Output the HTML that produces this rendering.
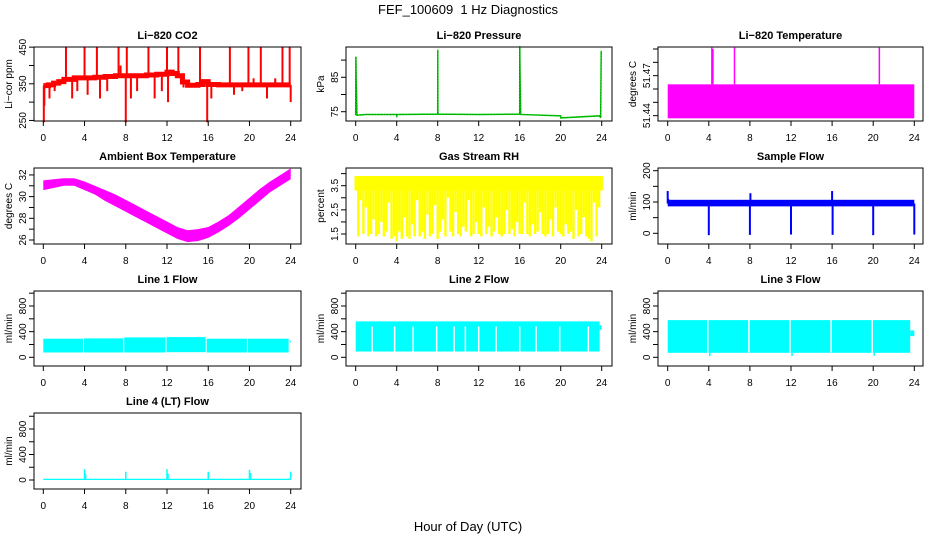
<!DOCTYPE html>
<html><head><meta charset="utf-8"><style>
html,body{margin:0;padding:0;background:#fff;}
svg{display:block;font-family:"Liberation Sans",Arial,sans-serif;}
</style></head><body>
<svg id="chart" width="936" height="540" viewBox="0 0 936 540" xmlns="http://www.w3.org/2000/svg">
<rect width="936" height="540" fill="#fff"/>
<text x="468" y="14" text-anchor="middle" font-size="13">FEF_100609&#160; 1 Hz Diagnostics</text>
<text x="468" y="531" text-anchor="middle" font-size="13">Hour of Day (UTC)</text>
</svg>
<script>
// ---------- DATA ----------
const xTicks = [0,4,8,12,16,20,24];
// CO2 baseline (hour, ppm)
const co2BaseT = [0,0.5,1,1.5,2,3,4,5,6,7,8,9,10,11,12,12.5,13,13.5,14,15,15.5,16,17,18,20,22,24];
const co2BaseV = [345,347,352,356,362,366,366,368,370,372,372,372,374,376,382,378,372,355,346,348,356,348,347,347,347,347,347];
const co2SpikeT = [0.05,0.1,0.6,1.1,2.2,2.8,3.3,4,4.3,5.2,5.5,6.2,7.3,7.5,8,8.1,8.5,9.1,10.2,10.8,11.5,12,12.1,13.1,13.6,15.2,15.9,16.3,18.1,18.5,19.3,19.9,20.4,21.1,21.7,22.5,23.2,23.9,24];
const co2SpikeV = [245,290,310,330,450,310,330,450,320,450,310,330,450,400,245,450,310,330,450,310,330,450,300,450,340,450,245,310,450,320,330,450,365,450,310,365,450,450,300];
// Pressure (hour, kPa)
const presT = [0,0.02,0.05,0.1,0.12,0.2,1,4,4.01,4.02,8,8.01,8.02,8.1,12,16,16.01,16.02,16.05,16.1,20,20.01,23.8,23.9,23.95,24];
const presV = [74,91,83,78,74,74,74.2,74.2,73.4,74.2,74.3,93,74.6,74.3,74.2,74.3,94,90,82,74.2,73.8,73.2,73.8,73.2,92.5,92.5];
// Li-820 temperature
const tempLo = 51.438, tempHi = 51.4635;
const tempSpikeT = [4.3,4.4,6.5,20.6];
const tempSpikeV = [51.491,51.490,51.491,51.491];
// Ambient box temperature band (hourly)
const ambT  = [0,1,2,3,4,5,6,7,8,9,10,11,12,13,14,15,16,17,18,19,20,21,22,23,24];
const ambHi = [31.5,31.6,31.7,31.7,31.4,31.0,30.6,30.2,29.7,29.2,28.7,28.2,27.7,27.2,26.9,27.0,27.2,27.7,28.3,29.1,29.9,30.7,31.4,32.0,32.6];
const ambLo = [30.6,30.8,31.0,31.0,30.6,30.2,29.6,29.1,28.6,28.1,27.6,27.1,26.6,26.1,25.8,25.9,26.2,26.7,27.3,28.0,28.8,29.6,30.4,31.0,31.6];
// Gas stream RH lows (every 0.25 h)
const rhTop = 3.9;
const rhLows = [3.3,1.4,2.9,1.5,2.6,1.4,1.5,2.1,1.4,1.5,2.0,1.4,1.6,2.8,1.3,1.4,1.2,1.6,1.3,2.2,1.4,1.3,1.9,1.4,2.9,1.4,1.6,1.3,2.3,1.4,1.5,2.7,1.3,1.6,2.1,1.4,3.0,1.6,1.4,2.4,1.5,1.4,1.8,1.6,2.9,1.4,1.5,2.0,1.5,1.4,2.6,1.5,1.8,1.4,1.6,2.2,1.5,1.4,1.5,2.5,1.5,1.7,1.4,2.0,1.5,1.5,2.8,1.5,1.4,1.9,1.5,1.6,2.4,1.5,1.4,1.5,2.1,1.4,2.6,1.6,1.5,1.4,1.9,1.5,1.6,1.3,2.5,1.4,1.5,2.2,1.4,1.3,1.2,2.8,1.4,2.6,3.3];
// Sample flow
const sfHi = 107, sfLo = 86;
const sfSpikeT = [0,0.05,4,8,8.05,12,16,16.05,20,24];
const sfSpikeV = [135,110,-6,-5,128,-4,135,-5,-6,-4];
// Line flows: segments [start, end] and levels
const l1SegS = [0,3.95,7.85,11.95,15.85,19.85];
const l1SegE = [3.85,7.75,11.85,15.75,19.75,23.8];
const l1Hi   = [290,295,310,315,290,290];
const l1Lo   = [75,75,75,80,75,75];
const l2GapT = [1.6,3.8,5.6,7.9,9.6,10.7,12,13.7,16,17.6,19.9,22.7];
const l2Hi = 560, l2Lo = 90;
const l3GapT = [3.9,7.9,11.9,15.9,19.9];
const l3Hi = 580, l3Lo = 70;
const l3DipT = [4,12,20];
const l3DipV = [20,20,25];
const l4SpikeT = [4,4.1,8,12,12.1,16,20,20.1,24];
const l4SpikeV = [170,100,130,170,100,130,160,110,130];

// ---------- LAYOUT ----------
const cols = [{L:34,R:301,x0:43.3,x24:290.7},{L:346,R:612,x0:355.7,x24:601.7},{L:658,R:923,x0:667.7,x24:914.3}];
const rows = [{T:47,B:121},{T:168,B:244},{T:291,B:366},{T:413,B:489}];
const svg = document.getElementById('chart');
const NS = 'http://www.w3.org/2000/svg';
function mk(tag, attrs, parent){const e=document.createElementNS(NS,tag);for(const k in attrs)e.setAttribute(k,attrs[k]);(parent||svg).appendChild(e);return e;}

function panel(name, c, r, ylim, yticks, ylabels, ylab, title){
  const C=cols[c], R=rows[r];
  const g = mk('g',{});
  
  
  const xs = h => C.x0 + (C.x24-C.x0)*h/24;
  const ys = v => R.B - (v-ylim[0])/(ylim[1]-ylim[0])*(R.B-R.T);
  const marks = mk('g',{},g);
  
  
  const p = {g,marks,xs,ys,C,R};
  p.finish = function(){
    const box = mk('rect',{x:C.L,y:R.T,width:C.R-C.L,height:R.B-R.T,fill:'none',stroke:'#000','stroke-width':1},g);
    
    
    const t = mk('text',{x:(C.L+C.R)/2,y:R.T-8,'text-anchor':'middle','font-size':11,'font-weight':'bold'},g);
    t.textContent = title;
    
    
    const xa = mk('g',{},g);
    
    
    xTicks.forEach(h=>{
      mk('line',{x1:xs(h),x2:xs(h),y1:R.B,y2:R.B+5,stroke:'#000'},xa);
      const l = mk('text',{x:xs(h),y:R.B+20,'text-anchor':'middle','font-size':10},xa);
      l.textContent = h;
    });
    const ya = mk('g',{},g);
    
    
    yticks.forEach(v=>{
      mk('line',{x1:C.L-5,x2:C.L,y1:ys(v),y2:ys(v),stroke:'#000'},ya);
    });
    ylabels.forEach(v=>{
      const l = mk('text',{x:C.L-8,y:ys(v),'text-anchor':'middle','font-size':10,transform:`rotate(-90 ${C.L-8} ${ys(v)})`},ya);
      l.textContent = v;
    });
    const yt = mk('text',{x:C.L-22,y:(R.T+R.B)/2,'text-anchor':'middle','font-size':10,transform:`rotate(-90 ${C.L-22} ${(R.T+R.B)/2})`},g);
    yt.textContent = ylab;
    
    
  };
  return p;
}
function vline(p,h,v1,v2,col,w){return mk('line',{x1:p.xs(h),x2:p.xs(h),y1:p.ys(v1),y2:p.ys(v2),stroke:col,'stroke-width':w},p.marks);}
function rect(p,h1,h2,v1,v2,col){return mk('rect',{x:p.xs(h1),y:p.ys(v2),width:p.xs(h2)-p.xs(h1),height:p.ys(v1)-p.ys(v2),fill:col},p.marks);}

// CO2
let p = panel('co2',0,0,[248.5,450.4],[250,300,350,400,450],[250,350,450],'Li\u2212cor ppm','Li\u2212820 CO2');
co2SpikeT.forEach((t,i)=>{
  let b=co2BaseV[0]; for(let k=0;k<co2BaseT.length;k++){if(co2BaseT[k]<=t)b=co2BaseV[k];}
  vline(p,t,b,co2SpikeV[i],'#ff0000',2);
});
let pts=[]; co2BaseT.forEach((t,i)=>{ if(i>0) pts.push(p.xs(t)+','+p.ys(co2BaseV[i-1])); pts.push(p.xs(t)+','+p.ys(co2BaseV[i])); });
mk('polyline',{points:pts.join(' '),fill:'none',stroke:'#ff0000','stroke-width':5},p.marks);
p.finish();

// Pressure
p = panel('pressure',1,0,[72.3,93.8],[75,80,85,90],[75,85],'kPa','Li\u2212820 Pressure');
mk('polyline',{points:presT.map((t,i)=>p.xs(t)+','+p.ys(presV[i])).join(' '),fill:'none',stroke:'#00cc00','stroke-width':1.5},p.marks);
mk('polyline',{points:presT.map((t,i)=>p.xs(t)+','+p.ys(presV[i])).join(' '),fill:'none',stroke:'#005500','stroke-width':0.6,'stroke-dasharray':'1 2'},p.marks);
p.finish();

// Li-820 Temperature
p = panel('li820-temperature',2,0,[51.436,51.4915],[51.44,51.45,51.46,51.47,51.48,51.49],[51.44,51.47],'degrees C','Li\u2212820 Temperature');
rect(p,0,24,tempLo,tempHi,'#ff00ff');
tempSpikeT.forEach((t,i)=>vline(p,t,tempHi,tempSpikeV[i],'#ff00ff',1.5));
p.finish();

// Ambient
p = panel('ambient-temperature',0,1,[25.63,32.64],[26,27,28,29,30,31,32],[26,28,30,32],'degrees C','Ambient Box Temperature');
mk('polygon',{points:ambT.map((t,i)=>p.xs(t)+','+p.ys(ambHi[i])).concat(ambT.slice().reverse().map((t,j)=>p.xs(t)+','+p.ys(ambLo[ambT.length-1-j]))).join(' '),fill:'#ff00ff'},p.marks);
p.finish();

// RH
p = panel('gas-stream-rh',1,1,[1.086,4.233],[1.5,2,2.5,3,3.5,4],[1.5,2.5,3.5],'percent','Gas Stream RH');
rect(p,0,24,3.3,rhTop,'#ffff00');
rhLows.forEach((v,i)=>vline(p,i*0.25,rhTop,v,'#ffff00',2.4));
p.finish();

// Sample flow
p = panel('sample-flow',2,1,[-34.2,208.6],[0,50,100,150,200],[0,100,200],'ml/min','Sample Flow');
rect(p,0,24,sfLo,sfHi,'#0000ff');
sfSpikeT.forEach((t,i)=>vline(p,t,95,sfSpikeV[i],'#0000ff',2));
p.finish();

// Line 1
const fl = [-135.7,1034], flt=[0,200,400,600,800,1000], fll=[0,400,800];
p = panel('line1-flow',0,2,fl,flt,fll,'ml/min','Line 1 Flow');
l1SegS.forEach((s,i)=>rect(p,s,l1SegE[i],l1Lo[i],l1Hi[i],'#00ffff'));
rect(p,23.9,24,230,260,'#00ffff');
p.finish();

// Line 2
p = panel('line2-flow',1,2,fl,flt,fll,'ml/min','Line 2 Flow');
rect(p,0,23.8,l2Lo,l2Hi,'#00ffff');
rect(p,23.8,24,430,500,'#00ffff');
l2GapT.forEach(t=>vline(p,t,l2Lo,480,'#ffffff',1.5));
p.finish();

// Line 3
p = panel('line3-flow',2,2,fl,flt,fll,'ml/min','Line 3 Flow');
rect(p,0,23.6,l3Lo,l3Hi,'#00ffff');
rect(p,23.6,24,330,420,'#00ffff');
l3GapT.forEach(t=>vline(p,t,l3Lo,l3Hi+5,'#ffffff',1.5));
l3DipT.forEach((t,i)=>vline(p,t+0.1,l3Lo,l3DipV[i],'#00ffff',1.5));
p.finish();

// Line 4
p = panel('line4-flow',0,3,[-141,1051],flt,fll,'ml/min','Line 4 (LT) Flow');
rect(p,0,24,0,20,'#00ffff');
l4SpikeT.forEach((t,i)=>vline(p,t,10,l4SpikeV[i],'#00ffff',1.5));
p.finish();
</script>
</body></html>
